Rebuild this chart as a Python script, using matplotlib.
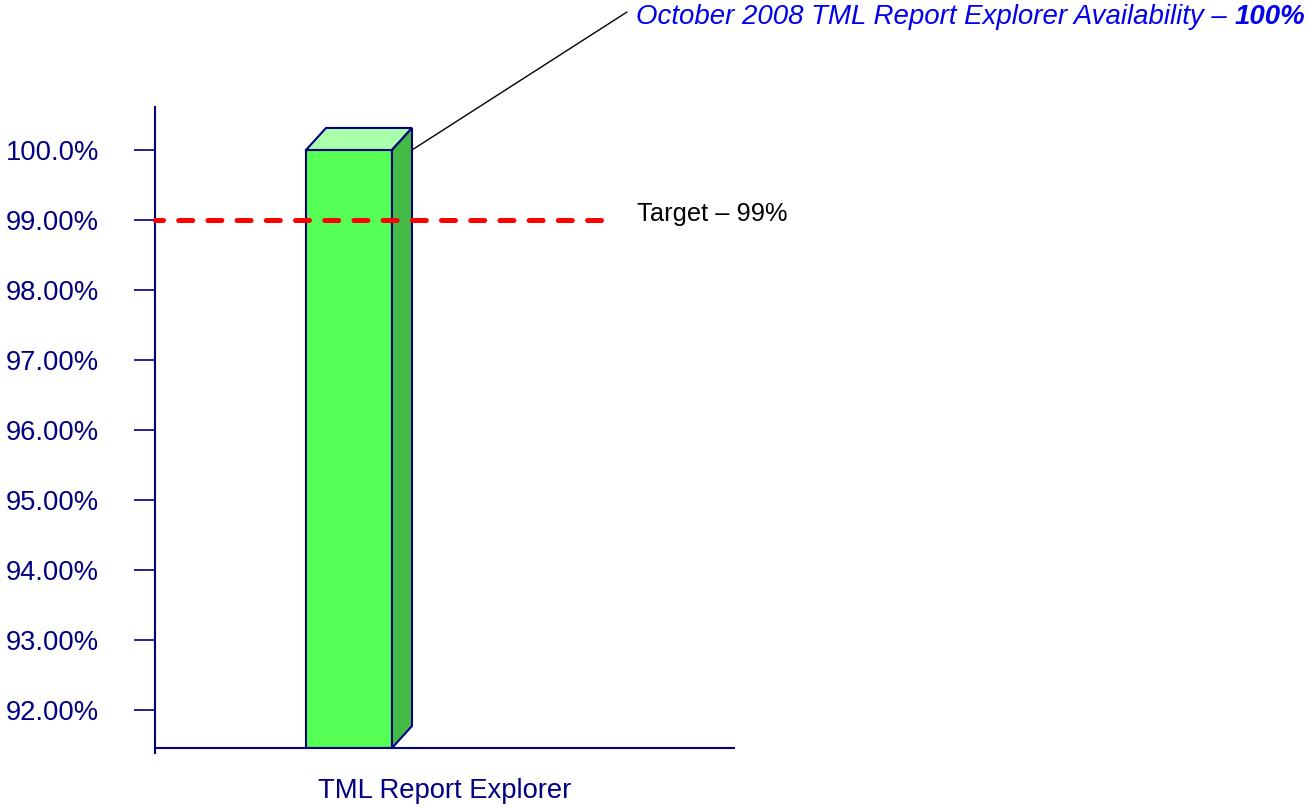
import matplotlib
matplotlib.use("Agg")
import matplotlib.pyplot as plt
from matplotlib.patches import Polygon
import numpy as np

# ---- data ----
categories = ["TML Report Explorer"]
availability = [100.0]
target = 99.0
ytick_values = [92, 93, 94, 95, 96, 97, 98, 99, 100]
ytick_labels = ["92.00%", "93.00%", "94.00%", "95.00%", "96.00%",
                "97.00%", "98.00%", "99.00%", "100.0%"]
title_main = "October 2008 TML Report Explorer Availability \u2013 "
title_value = "100%"
target_label = "Target \u2013 99%"

plt.rcParams['font.family'] = ['Liberation Sans', 'DejaVu Sans']

W, H = 1308, 808
fig = plt.figure(figsize=(W / 100, H / 100), dpi=100)
ax_left, ax_right, ax_top, ax_bottom = 155, 734, 107, 748
ax = fig.add_axes([ax_left / W, 1 - ax_bottom / H,
                   (ax_right - ax_left) / W, (ax_bottom - ax_top) / H])

navy = '#000080'
ax.set_ylim(91.457, 100.614)
bar_w = 0.6
ax.set_xlim(-1.354, 2.687)

# spines
for s in ['top', 'right']:
    ax.spines[s].set_visible(False)
for s in ['left', 'bottom']:
    ax.spines[s].set_color(navy)
    ax.spines[s].set_linewidth(1.5)
ax.plot([0, 0], [0, -6 / (ax_bottom - ax_top)], transform=ax.transAxes,
        color=navy, lw=1.5, clip_on=False, solid_capstyle='butt')

ax.set_yticks(ytick_values)
ax.set_yticklabels(ytick_labels)
ax.tick_params(axis='y', direction='out', length=15, width=1.2, color=navy,
               labelcolor=navy, labelsize=19.7, pad=25.5)
ax.set_xticks([])

# 3D bar
xs = np.arange(len(categories))
fig.canvas.draw()
inv = ax.transData.inverted()
dxp, dyp = 20, 22
for x, v in zip(xs, availability):
    base = ax.get_ylim()[0]
    x0, x1 = x - bar_w / 2, x + bar_w / 2
    front = Polygon([(x0, base), (x1, base), (x1, v), (x0, v)], closed=True,
                    facecolor='#55ff55', edgecolor=navy, lw=1.5, zorder=2)
    ax.add_patch(front)
    def off(px, py):
        d = ax.transData.transform((px, py))
        return inv.transform((d[0] + dxp, d[1] + dyp))
    top = Polygon([(x0, v), (x1, v), tuple(off(x1, v)), tuple(off(x0, v))],
                  closed=True, facecolor='#aaffaa', edgecolor=navy, lw=1.5,
                  zorder=2, clip_on=False)
    side = Polygon([(x1, base), tuple(off(x1, base)), tuple(off(x1, v)), (x1, v)],
                   closed=True, facecolor='#44bb44', edgecolor=navy, lw=1.5,
                   zorder=2)
    ax.add_patch(top)
    ax.add_patch(side)
    leader_start = (off(x1, v)[0], v)

# target line
ax0_px = ax.transAxes.transform((0, 0))[0]
x_end_target = inv.transform((ax0_px + (603 - 155), 0))[0]
ax.plot([ax.get_xlim()[0], x_end_target], [target, target], color='#ff0000',
        lw=3.6, linestyle=(1.2, (2.8, 3.04)), dash_capstyle='round', zorder=3,
        clip_on=False)
ax.text(637 / W, 1 - 214 / H, target_label, transform=fig.transFigure,
        fontsize=18.3, color='black', va='center', ha='left')

# category label
ax.text(0.5, -43 / (ax_bottom - ax_top), categories[0], transform=ax.transAxes,
        ha='center', va='center', fontsize=19.7, color=navy)

# title annotation
t1 = fig.text(636 / W, 1 - 17 / H, title_main, fontsize=19.9, style='italic',
              color='#0000ee', va='center', ha='left')
ax.annotate(title_value, xy=(1, 0.5), xycoords=t1, va='center', ha='left',
            fontsize=19.9, style='italic', weight='bold', color='#0000ee',
            annotation_clip=False)

# leader line
ax.annotate('', xy=leader_start, xycoords='data',
            xytext=(627 / W, 1 - 12 / H), textcoords='figure fraction',
            arrowprops=dict(arrowstyle='-', color='black', lw=1.0,
                            shrinkA=0, shrinkB=0),
            annotation_clip=False)

fig.savefig('out.png', dpi=100)
